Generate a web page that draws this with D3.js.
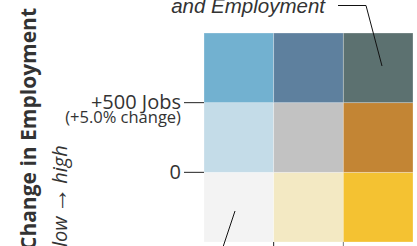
<!DOCTYPE html>
<html><head><meta charset="utf-8">
<script src="https://cdn.jsdelivr.net/npm/d3@7"></script>
<style>html,body{margin:0;padding:0;background:#fff;overflow:hidden}</style>
</head><body>
<svg id="c" width="417" height="246"></svg>
<script>
// bivariate legend: rows = change in employment (low -> high), columns = other variable (low -> high)
const xLevels = ["low", "mid", "high"];
const yLevels = ["low", "mid", "high"];
const cellColors = [
  // [yLevel][xLevel]
  ["#f3f3f3", "#f3e9c3", "#f4c232"],
  ["#c4dce8", "#c2c2c2", "#c38534"],
  ["#72b1d0", "#5e809e", "#5c7170"]
];
const yTickLabels = [
  {pos: 1, main: "0", sub: ""},
  {pos: 2, main: "+500 Jobs", sub: "(+5.0% change)"}
];
const xTickPositions = [1, 2];
const yTitle = "Change in Employment";
const yDirection = ["low", "\u2192", "high"];
const titleLine = "and Employment";

const svg = d3.select("#c");
const x = d3.scaleLinear().domain([0, 3]).range([204, 413]);
const y = d3.scaleLinear().domain([0, 3]).range([242, 33]);

const cells = [];
yLevels.forEach((yl, i) => xLevels.forEach((xl, j) => cells.push({i, j, c: cellColors[i][j]})));
svg.append("g").selectAll("rect").data(cells).join("rect")
  .attr("x", d => x(d.j)).attr("y", d => y(d.i + 1))
  .attr("width", x(1) - x(0)).attr("height", y(0) - y(1))
  .attr("fill", d => d.c)
  .attr("stroke", "#ffffff").attr("stroke-opacity", 0.35).attr("stroke-width", 0.8);

// y ticks
const yt = svg.append("g").selectAll("g").data(yTickLabels).join("g");
yt.append("line").attr("x1", 184).attr("x2", x(0)).attr("y1", d => y(d.pos)).attr("y2", d => y(d.pos))
  .attr("stroke", "#222").attr("stroke-width", 1);
yt.append("text").attr("x", 181).attr("y", d => y(d.pos) + 6.8)
  .attr("text-anchor", "end").attr("font-family", "Open Sans").attr("font-size", 20)
  .attr("fill", "#333").text(d => d.main);
yt.append("text").attr("x", 181).attr("y", d => y(d.pos) + 20.5)
  .attr("text-anchor", "end").attr("font-family", "Open Sans").attr("font-size", 16.5)
  .attr("fill", "#333").text(d => d.sub);

// x ticks below
svg.append("g").selectAll("line").data(xTickPositions).join("line")
  .attr("x1", d => x(d)).attr("x2", d => x(d)).attr("y1", 242).attr("y2", 250)
  .attr("stroke", (d, k) => k === 0 ? "#222" : "#777").attr("stroke-width", 1);

// axis titles
svg.append("text").attr("transform", "translate(36,250) rotate(-90)")
  .attr("font-family", "Open Sans").attr("font-weight", "bold").attr("font-size", 21)
  .attr("fill", "#333").text(yTitle);
const dir = svg.append("text").attr("transform", "translate(67,247) rotate(-90)")
  .attr("font-family", "Open Sans").attr("font-style", "italic").attr("font-size", 20)
  .attr("fill", "#333").attr("xml:space", "preserve");
dir.append("tspan").text(yDirection[0] + "\u2009");
dir.append("tspan").attr("font-family", "Liberation Sans").attr("font-style", "normal")
  .attr("font-size", 26).text(yDirection[1]);
dir.append("tspan").text("\u2009" + yDirection[2]);

// title fragment
svg.append("text").attr("x", 325).attr("y", 12.5)
  .attr("text-anchor", "end").attr("font-family", "Liberation Sans").attr("font-style", "italic")
  .attr("font-size", 20.5).attr("fill", "#333").text(titleLine);

// leader lines
svg.append("path").attr("d", "M338,5.5 L366,5.5 L382,66").attr("fill", "none").attr("stroke", "#111").attr("stroke-width", 1);
svg.append("path").attr("d", "M235,211 L222,250").attr("fill", "none").attr("stroke", "#111").attr("stroke-width", 1);
</script>
</body></html>
